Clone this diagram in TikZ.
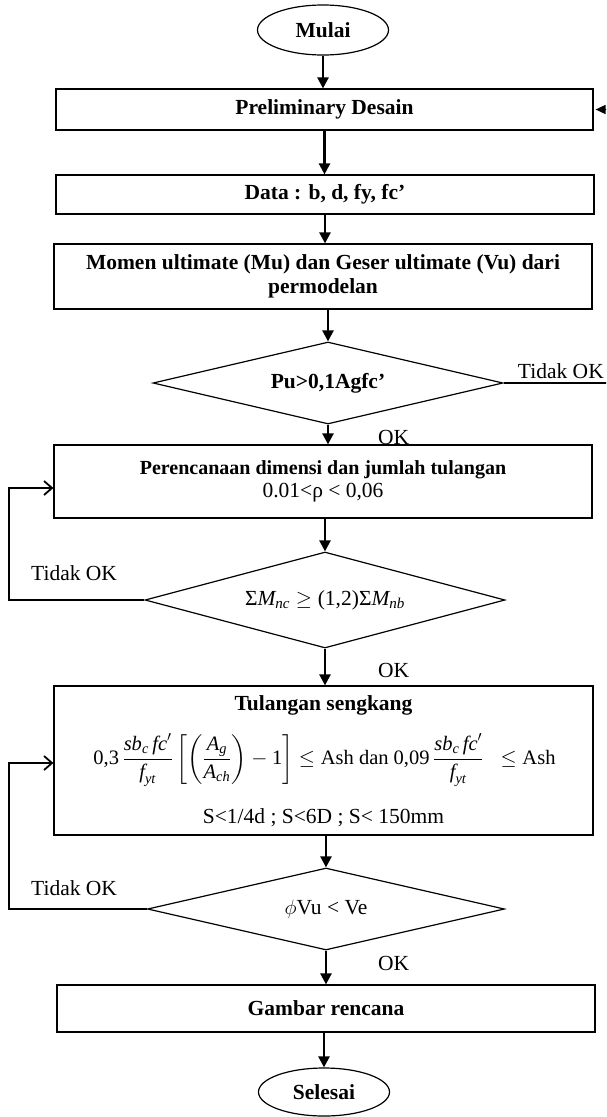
\documentclass[tikz,border=0pt]{standalone}
\usepackage{amsmath}
\usepackage{fontspec}
\setmainfont{Liberation Serif}
\usetikzlibrary{shapes.geometric,arrows.meta,calc}
\newcommand{\ti}[1]{\textit{#1}}
\newcommand{\fs}{\fontsize{21.5}{24}\selectfont}
\begin{document}
\begin{tikzpicture}[x=1pt,y=-1pt,
  boxs/.style={draw, line width=1.2pt, rectangle, inner sep=2pt, align=center, fill=white, font=\fs\bfseries},
  term/.style={draw, ellipse, line width=1.2pt, minimum width=131pt, minimum height=50pt, inner sep=0pt, font=\fs\bfseries},
  dec/.style={draw, diamond, line width=1.2pt, inner sep=0pt, shape aspect=4, font=\fs},
  arr/.style={line width=2.4pt, -{Triangle[length=11pt,width=11pt]}},
  fb/.style={line width=1.8pt, line join=miter, -{Straight Barb[length=8pt,width=14pt]}},
  ln/.style={line width=1.6pt},
  lbl/.style={inner sep=0pt, font=\fs}
]
\clip (0,0) rectangle (606,1117);
\useasboundingbox (0,0) rectangle (606,1117);

\node[term] (start) at (323,30) {Mulai};
\node[boxs, minimum width=537pt, minimum height=41pt] (pre) at (324.5,109.5) {Preliminary Desain};
\node[boxs, minimum width=538pt, minimum height=39pt] (data) at (325,194.5) {Data : b, d, fy, fc’};
\node[boxs, minimum width=538pt, minimum height=65pt] (mom) at (323,276.5) {Momen ultimate (Mu) dan Geser ultimate (Vu) dari\\permodelan};
\node[dec, minimum width=350pt, minimum height=82pt] (d1) at (328,383) {\bfseries Pu>0,1Agfc’};
\node[boxs, minimum width=538pt, minimum height=73pt] (per) at (323,481.5) {{\fontsize{20}{22}\selectfont\bfseries Perencanaan dimensi dan jumlah tulangan}\\[-1pt]{\mdseries 0.01<ρ < 0,06}};
\node[dec, minimum width=360pt, minimum height=96pt] (d2) at (325,600) {$\mbox{Σ}\ti{M}_{\ti{nc}}\ge\mbox{(1,2)Σ}\ti{M}_{\ti{nb}}$};
\node[boxs, minimum width=539pt, minimum height=149pt] (tul) at (323.5,760.5) {};
\node[lbl, font=\fs\bfseries] (t1) at (323.5,705) {Tulangan sengkang};
\node[lbl, font=\fontsize{20.5}{24}\selectfont] (t2) at (324.5,760) {$\displaystyle \mbox{0,3}\,\frac{\ti{sb}_{\ti{c}}\,\ti{fc}'}{\ti{f}_{\ti{yt}}}\left[\left(\frac{\ti{A}_{\ti{g}}}{\ti{A}_{\ti{ch}}}\right)-\mbox{1}\right]\le\mbox{Ash dan }\mbox{0,09}\,\frac{\ti{sb}_{\ti{c}}\,\ti{fc}'}{\ti{f}_{\ti{yt}}}\;\;\le\mbox{Ash}$};
\node[lbl] (t3) at (323.5,818) {S<1/4d ; S<6D ; S< 150mm};
\node[dec, minimum width=357pt, minimum height=82pt] (d3) at (326,909) {$\phi$Vu < Ve};
\node[boxs, minimum width=538pt, minimum height=47pt] (gam) at (326,1008.5) {Gambar rencana};
\node[term, minimum height=48pt] (sel) at (324,1092) {Selesai};

\draw[arr] (start) -- (start |- pre.north);
\draw[arr] (pre) -- (pre |- data.north);
\draw[arr] (data) -- (data |- mom.north);
\draw[arr] (d1 |- mom.south) -- (d1.north);
\draw[arr] (d1) -- (d1 |- per.north);
\draw[arr] (d2 |- per.south) -- (d2.north);
\draw[arr] (d2) -- (d2 |- tul.north);
\draw[arr] (d3 |- tul.south) -- (d3.north);
\draw[arr] (d3) -- (d3 |- gam.north);
\draw[arr] (sel |- gam.south) -- (sel.north);

\node[lbl, anchor=west] (ok1) at (378,437) {OK};
\node[lbl, anchor=west] (ok2) at (378,670) {OK};
\node[lbl, anchor=west] (ok3) at (378,963) {OK};
\node[lbl, anchor=west] (no1) at (31,573) {Tidak OK};
\node[lbl, anchor=west] (no2) at (31,888) {Tidak OK};
\node[lbl, anchor=base east] (no0) at (604,378) {Tidak OK};

\coordinate (f1a) at (9,600);
\coordinate (f1b) at (9,488);
\draw[fb] (d2.west) -- (f1a) -- (f1b) -- (per.west |- f1b);
\coordinate (f2a) at (9,909);
\coordinate (f2b) at (9,763);
\draw[fb] (d3.west) -- (f2a) -- (f2b) -- (tul.west |- f2b);

\coordinate (rout) at (620,383);
\draw[ln] (d1.east) -- (rout);
\coordinate (rin) at (625,109.5);
\draw[line width=1.6pt, -{Triangle[length=10pt,width=9pt]}, shorten >=2pt] (rin) -- (pre.east);
\end{tikzpicture}
\end{document}
